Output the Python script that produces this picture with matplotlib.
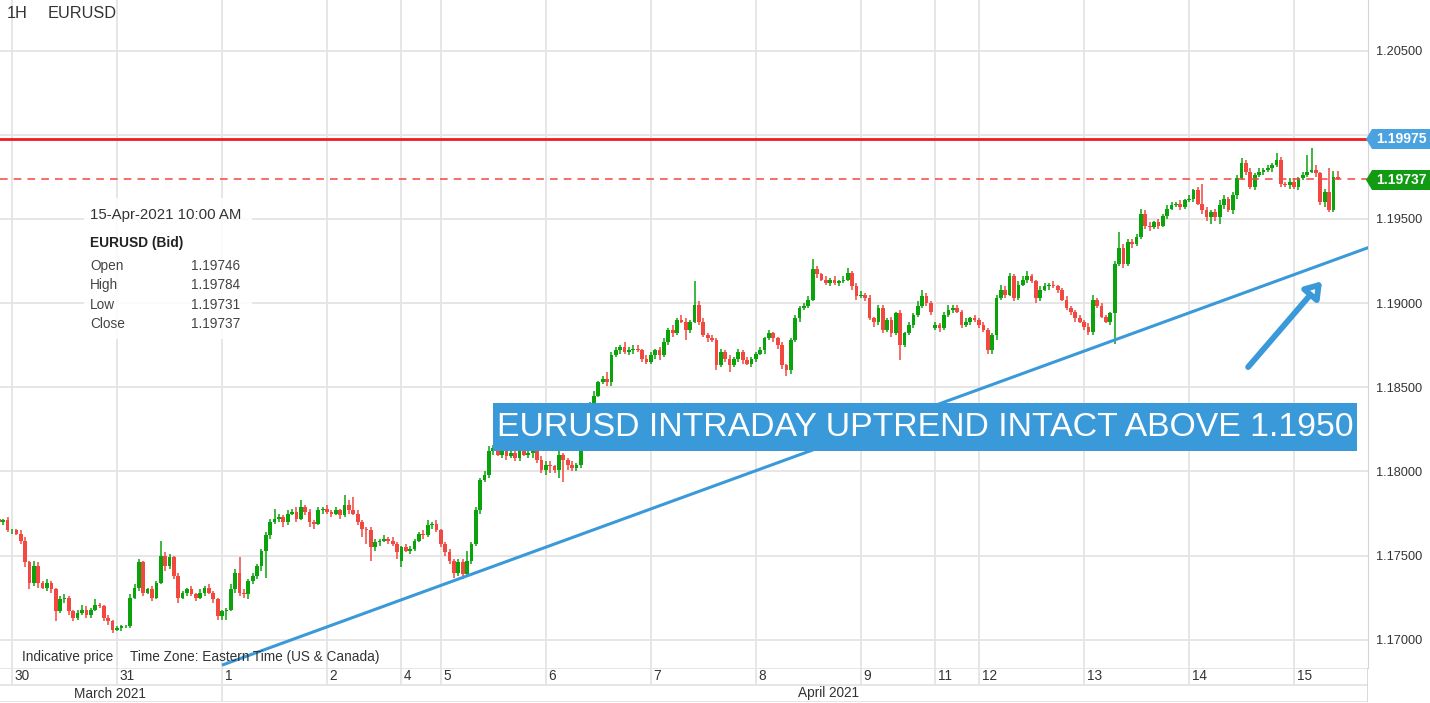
import numpy as np
import matplotlib
matplotlib.use('Agg')
import matplotlib.pyplot as plt
from matplotlib.patches import Rectangle, Polygon

plt.rcParams['font.family'] = ['Liberation Sans', 'DejaVu Sans']

W, H = 1430, 703

# hourly EURUSD candles; x is the trading-hour index, 0 = 30 Mar 00:00 ET
first_hour = -3
first_open = 1.1772
close = [
    1.1770, 1.1771, 1.1765,
    # 30 Mar
    1.1765, 1.1763, 1.1759, 1.1746, 1.1734, 1.1744, 1.1734, 1.1731, 1.1734, 1.1730, 1.1717, 1.1724,
    1.1725, 1.1717, 1.1713, 1.1716, 1.1718, 1.1715, 1.1718, 1.1721, 1.1720, 1.1713, 1.1711, 1.1706,
    # 31 Mar
    1.1707, 1.1708, 1.1708, 1.1725, 1.1731, 1.1746, 1.1728, 1.1730, 1.1725, 1.1734, 1.1750, 1.1744,
    1.1749, 1.1738, 1.1725, 1.1728, 1.1730, 1.1727, 1.1725, 1.1728, 1.1731, 1.1728, 1.1724, 1.1714,
    # 1 Apr
    1.1717, 1.1718, 1.1730, 1.1740, 1.1728, 1.1727, 1.1735, 1.1738, 1.1744, 1.1753, 1.1762, 1.1770,
    1.1772, 1.1773, 1.1770, 1.1775, 1.1776, 1.1772, 1.1779, 1.1776, 1.1770, 1.1769, 1.1777, 1.1778,
    # 2 Apr
    1.1776, 1.1775, 1.1777, 1.1774, 1.1780, 1.1777, 1.1775, 1.1770, 1.1766, 1.1765, 1.1755, 1.1758,
    1.1759, 1.1760, 1.1759, 1.1757, 1.1752,
    # 4 Apr
    1.1755, 1.1753, 1.1754, 1.1759, 1.1763, 1.1762, 1.1768, 1.1769, 1.1765,
    # 5 Apr
    1.1757, 1.1752, 1.1747, 1.1740, 1.1746, 1.1739, 1.1747, 1.1757, 1.1777, 1.1795, 1.1798, 1.1812,
    1.1814, 1.1810, 1.1812, 1.1809, 1.1811, 1.1808, 1.1812, 1.1810, 1.1811, 1.1813, 1.1807, 1.1801,
    # 6 Apr
    1.1804, 1.1803, 1.1801, 1.1810, 1.1807, 1.1804, 1.1802, 1.1804, 1.1813, 1.1831, 1.1839, 1.1845,
    1.1853, 1.1855, 1.1853, 1.1869, 1.1872, 1.1874, 1.1871, 1.1872, 1.1873, 1.1872, 1.1867, 1.1865,
    # 7 Apr
    1.1869, 1.1872, 1.1869, 1.1877, 1.1884, 1.1882, 1.1890, 1.1889, 1.1884, 1.1889, 1.1899, 1.1889,
    1.1881, 1.1879, 1.1878, 1.1863, 1.1871, 1.1867, 1.1863, 1.1867, 1.1871, 1.1866, 1.1864, 1.1867,
    # 8 Apr
    1.1870, 1.1872, 1.1879, 1.1882, 1.1879, 1.1875, 1.1863, 1.1860, 1.1878, 1.1891, 1.1897, 1.1898,
    1.1902, 1.1920, 1.1917, 1.1914, 1.1912, 1.1914, 1.1912, 1.1913, 1.1914, 1.1918, 1.1910, 1.1904,
    # 9 Apr
    1.1905, 1.1903, 1.1891, 1.1889, 1.1897, 1.1884, 1.1890, 1.1882, 1.1894, 1.1875, 1.1882, 1.1887,
    1.1893, 1.1898, 1.1904, 1.1900, 1.1895,
    # 11 Apr
    1.1887, 1.1885, 1.1893, 1.1896, 1.1897, 1.1895, 1.1887, 1.1889, 1.1891, 1.1890,
    # 12 Apr
    1.1887, 1.1884, 1.1872, 1.1881, 1.1903, 1.1908, 1.1905, 1.1916, 1.1903, 1.1911, 1.1914, 1.1916,
    1.1913, 1.1903, 1.1908, 1.1910, 1.1911, 1.1910, 1.1908, 1.1902, 1.1897, 1.1895, 1.1891, 1.1889,
    # 13 Apr
    1.1886, 1.1883, 1.1902, 1.1898, 1.1892, 1.1889, 1.1894, 1.1923, 1.1933, 1.1923, 1.1936, 1.1935,
    1.1939, 1.1953, 1.1946, 1.1945, 1.1948, 1.1946, 1.1952, 1.1956, 1.1958, 1.1959, 1.1957, 1.1961,
    # 14 Apr
    1.1962, 1.1967, 1.1959, 1.1955, 1.1951, 1.1954, 1.1951, 1.1958, 1.1962, 1.1955, 1.1964, 1.1974,
    1.1983, 1.1978, 1.1969, 1.1976, 1.1978, 1.1979, 1.1980, 1.1982, 1.1985, 1.1971, 1.1970, 1.1972,
    # 15 Apr
    1.1969, 1.1974, 1.1976, 1.1978, 1.1979, 1.1977, 1.1960, 1.1966, 1.1955, 1.19746, 1.19737,
]
# wick lengths above / below the body, in pips
wick_up = [
    2, 1, 2,
    1, 1, 2, 2, 1, 3, 2, 1, 2, 1, 1, 2, 2, 1, 1, 2, 3, 2, 1, 3, 1, 1, 2, 1,
    1, 1, 1, 2, 2, 2, 1, 1, 2, 1, 9, 2, 2, 1, 2, 1, 1, 2, 1, 2, 1, 2, 1, 1,
    1, 1, 3, 2, 9, 2, 1, 2, 1, 1, 2, 2, 6, 2, 1, 2, 2, 3, 4, 1, 2, 1, 2, 1,
    2, 1, 2, 1, 6, 3, 8, 2, 1, 1, 2, 2, 1, 2, 1, 2, 1,
    1, 2, 2, 1, 1, 2, 3, 1, 2,
    1, 1, 2, 1, 2, 2, 6, 1, 2, 1, 2, 3, 2, 2, 2, 1, 2, 2, 1, 2, 1, 2, 1, 2,
    2, 2, 1, 2, 1, 1, 2, 1, 1, 2, 2, 3, 1, 2, 4, 2, 2, 1, 3, 2, 2, 2, 1, 2,
    2, 1, 2, 2, 1, 3, 1, 3, 2, 1, 14, 2, 2, 1, 2, 1, 2, 1, 2, 1, 2, 1, 2, 1,
    1, 2, 1, 2, 1, 1, 2, 1, 1, 2, 1, 2, 2, 6, 2, 1, 2, 1, 2, 1, 2, 3, 1, 2,
    2, 1, 2, 1, 2, 2, 1, 2, 1, 2, 1, 2, 1, 3, 4, 2, 1,
    2, 1, 2, 3, 2, 2, 1, 2, 1, 2,
    1, 2, 1, 1, 2, 3, 2, 2, 1, 2, 2, 3, 1, 1, 2, 2, 1, 2, 1, 1, 2, 1, 1, 2,
    1, 2, 3, 1, 2, 1, 1, 2, 9, 2, 2, 2, 2, 3, 2, 2, 1, 2, 1, 2, 2, 1, 2, 1,
    2, 1, 2, 12, 2, 1, 2, 3, 2, 1, 2, 2, 3, 2, 2, 1, 2, 1, 2, 1, 4, 2, 1, 2,
    2, 1, 2, 10, 13, 3, 1, 2, 14, 4, 3.8,
]
wick_dn = [
    1, 2, 1,
    2, 1, 2, 3, 4, 2, 3, 1, 2, 2, 6, 1, 2, 2, 2, 1, 1, 2, 2, 1, 1, 2, 2, 2,
    1, 2, 1, 1, 1, 2, 2, 1, 2, 1, 1, 3, 2, 2, 3, 1, 2, 1, 2, 1, 2, 1, 2, 2,
    2, 5, 1, 2, 2, 2, 3, 2, 2, 3, 16, 2, 1, 2, 3, 2, 1, 2, 1, 2, 3, 3, 1, 2,
    1, 2, 1, 2, 1, 2, 1, 2, 5, 8, 8, 2, 2, 1, 2, 1, 4,
    4, 1, 2, 1, 1, 2, 1, 2, 1,
    2, 2, 2, 3, 2, 3, 1, 2, 1, 2, 1, 2, 2, 1, 2, 2, 1, 2, 2, 1, 2, 3, 2, 2,
    3, 4, 2, 5, 13, 3, 2, 2, 2, 1, 2, 1, 1, 1, 2, 2, 1, 2, 1, 2, 2, 1, 2, 1,
    1, 2, 3, 1, 2, 2, 1, 1, 6, 2, 1, 2, 1, 2, 1, 3, 1, 2, 4, 1, 2, 2, 1, 2,
    2, 1, 2, 1, 2, 2, 2, 3, 2, 1, 2, 1, 1, 1, 2, 1, 1, 2, 1, 2, 1, 1, 2, 2,
    1, 2, 1, 3, 2, 2, 1, 2, 1, 9, 1, 1, 2, 1, 1, 2, 2,
    1, 2, 1, 1, 2, 1, 2, 1, 2, 1,
    2, 1, 2, 2, 3, 1, 2, 1, 2, 1, 1, 2, 1, 3, 2, 1, 2, 1, 2, 1, 1, 2, 2, 1,
    2, 2, 2, 1, 1, 1, 2, 18, 1, 2, 1, 2, 1, 1, 2, 2, 1, 2, 1, 2, 1, 1, 2, 1,
    1, 2, 1, 2, 2, 4, 2, 4, 2, 1, 2, 2, 1, 2, 1, 2, 1, 2, 1, 2, 1, 2, 1, 2,
    1, 2, 1, 1, 1, 2, 2, 3, 1, 1, 0.6,
]
# weekend gaps: opening price of the first Sunday candle
gap_open = {89: 1.1747, 211: 1.1885}

day_pos = [0, 24, 48, 72, 89, 98, 122, 146, 170, 194, 211, 221, 245, 269, 293]
day_lbl = ['30', '31', '1', '2', '4', '5', '6', '7', '8', '9', '11', '12', '13', '14', '15']
month_pos = [22.4, 186.5]
month_lbl = ['March 2021', 'April 2021']
month_break = 48

price_ticks = [1.170, 1.175, 1.180, 1.185, 1.190, 1.195, 1.200, 1.205]
resistance = 1.19975
last_close = 1.19737
trend_x = [48, 310]
trend_y = [1.1685, 1.1933]
arrow_from = (282.5, 1.1862)
arrow_to = (299.4, 1.1913)

info_date = '15-Apr-2021 10:00 AM'
info_names = ['Open', 'High', 'Low', 'Close']
info_vals = ['1.19746', '1.19784', '1.19731', '1.19737']

GREEN = '#0ba30b'
RED = '#f2483f'
BLUE = '#3a9ad9'
GRID = '#e4e4e4'

close = np.array(close)
n = len(close)
x = np.arange(n) + first_hour
opn = np.concatenate([[first_open], close[:-1]])
for h, v in gap_open.items():
    opn[h - first_hour] = v
high = np.maximum(opn, close) + np.array(wick_up) / 1e4
low = np.minimum(opn, close) - np.array(wick_dn) / 1e4
up = close >= opn
cols = np.where(up, GREEN, RED)


def fx(px):
    return px / W


def fy(py):
    return 1 - py / H


fig = plt.figure(figsize=(W / 100, H / 100), dpi=100)
ax = fig.add_axes([0, fy(668), fx(1368), 668 / H])
ax.set_xlim(-2.74, 309.9)
ax.set_ylim(1.16833, 1.20800)

ax.set_xticks(day_pos)
ax.set_xticklabels([])
ax.set_yticks(price_ticks)
ax.set_yticklabels(['' if abs(t - 1.2) < 1e-9 else f'{t:.5f}' for t in price_ticks])
ax.yaxis.tick_right()
ax.tick_params(axis='both', length=0)
ax.tick_params(axis='y', pad=5.5, labelsize=9.2, labelcolor='#333333')
ax.grid(True, color=GRID, lw=1.3)
ax.set_axisbelow(True)
for s in ['top', 'left', 'bottom']:
    ax.spines[s].set_visible(False)
ax.spines['right'].set_color('#d6d6d6')

# candles
ax.vlines(x, low, high, colors=cols, lw=1.1, zorder=3)
body = np.maximum(np.abs(close - opn), 0.00003)
ax.bar(x, body, width=0.85, bottom=np.minimum(opn, close), color=cols, lw=0, zorder=3)

# levels and trend line
ax.axhline(resistance, color='#ee1c1c', lw=2.0, zorder=4)
ax.axhline(last_close, color=RED, lw=1.1, dashes=(5, 4), zorder=4)
ax.plot(trend_x, trend_y, color=BLUE, lw=2.2, zorder=4, solid_capstyle='butt')
ax.annotate('', xy=arrow_to, xytext=arrow_from,
            arrowprops=dict(arrowstyle='-|>,head_length=0.9,head_width=0.6',
                            lw=4.2, ec=BLUE, fc='white', shrinkA=0, shrinkB=0),
            zorder=5)

# header
fig.text(fx(7), fy(14), '1H', fontsize=11.8, color='#333333', va='center')
fig.text(fx(48), fy(14), 'EURUSD', fontsize=11.8, color='#333333', va='center')

# info box
fig.patches.append(Rectangle((fx(84), fy(339)), fx(252) - fx(84), fy(198) - fy(339),
                             transform=fig.transFigure, fc='white', ec='none',
                             alpha=0.85, zorder=6))
fig.text(fx(90), fy(215), info_date, fontsize=10.8, color='#333333', va='center', zorder=7)
fig.text(fx(90), fy(243), 'EURUSD (Bid)', fontsize=9.9, fontweight='bold',
         color='#222222', va='center', zorder=7)
for i, (nm, v) in enumerate(zip(info_names, info_vals)):
    yy = 266 + i * 19.3
    fig.text(fx(90), fy(yy), nm, fontsize=9.8, color='#444444', va='center', zorder=7)
    fig.text(fx(240), fy(yy), v, fontsize=9.8, color='#444444', va='center',
             ha='right', zorder=7)

# banner
fig.patches.append(Rectangle((fx(493), fy(451)), fx(1357) - fx(493), fy(403) - fy(451),
                             transform=fig.transFigure, fc=BLUE, ec='none', zorder=6))
fig.text(fx(925), fy(428), 'EURUSD INTRADAY UPTREND INTACT ABOVE 1.1950',
         fontsize=24.3, color='white', ha='center', va='center', zorder=7)

# price tags on the right scale
for val, py, c in [(resistance, 139, '#4aa3e0'), (last_close, 180, '#129b12')]:
    fig.patches.append(Polygon([(fx(1366), fy(py)), (fx(1372), fy(py - 10)),
                                (fx(1430), fy(py - 10)), (fx(1430), fy(py + 10)),
                                (fx(1372), fy(py + 10))],
                               closed=True, transform=fig.transFigure,
                               fc=c, ec='none', zorder=6))
    fig.text(fx(1376), fy(py), f'{val:.5f}', fontsize=10, fontweight='bold',
             color='white', va='center', zorder=7)

# footer notes inside the plot
fig.text(fx(22), fy(657), 'Indicative price', fontsize=9.8, color='#333333', va='center')
fig.text(fx(130), fy(657), 'Time Zone: Eastern Time (US & Canada)', fontsize=9.8,
         color='#333333', va='center')

# date strip
axd = fig.add_axes([0, fy(702), fx(1368), 34 / H])
axd.set_xlim(ax.get_xlim())
axd.set_ylim(0, 2)
axd.axis('off')
for yl in [0, 1, 2]:
    axd.axhline(yl, color=GRID, lw=1.3)
axd.vlines(day_pos, 1, 2, color=GRID, lw=1.3)
axd.vlines([month_break], 0, 1, color=GRID, lw=1.3)
axd.axvline(ax.get_xlim()[1], color='#d6d6d6', lw=1.3)
for p, lb in zip(day_pos, day_lbl):
    axd.text(p + 0.6, 1.5, lb, fontsize=9.8, color='#333333', va='center', ha='left')
for p, lb in zip(month_pos, month_lbl):
    axd.text(p, 0.5, lb, fontsize=9.8, color='#333333', va='center', ha='center')

fig.savefig('out.png', dpi=100)
